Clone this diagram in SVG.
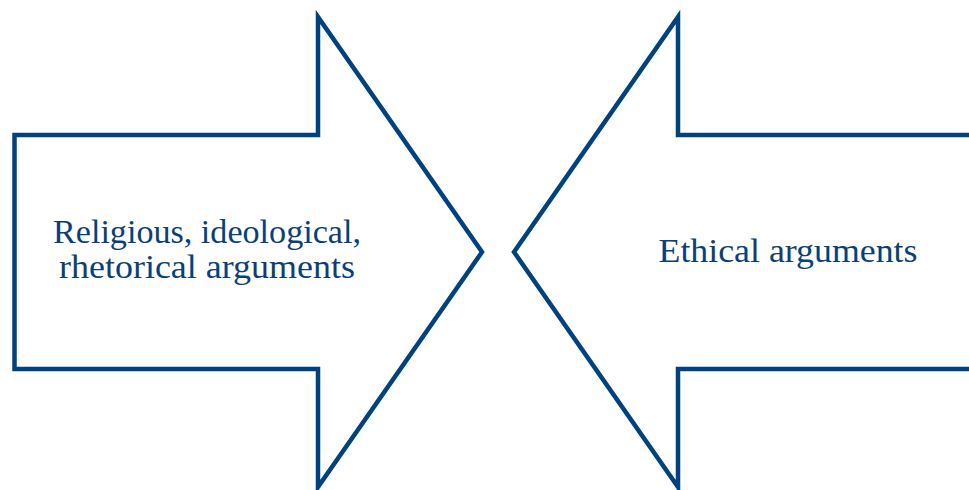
<svg xmlns="http://www.w3.org/2000/svg" width="969" height="490" viewBox="0 0 969 490">
  <style>
    .arrow { fill: #ffffff; stroke: #00427f; stroke-width: 4.5; stroke-linejoin: miter; stroke-miterlimit: 10; }
    .label { font-family: "Liberation Serif", "Times New Roman", serif; font-size: 33px; fill: #0b3f78; text-anchor: middle; }
  </style>
  <rect width="969" height="490" fill="#ffffff"/>
  <g id="connectors"></g>
  <g id="arrow-left">
    <polygon class="arrow" points="14.5,135 318,135 318,17 482,252 318,487 318,369 14.5,369"/>
    <text class="label" x="207" y="243" textLength="308" lengthAdjust="spacingAndGlyphs">Religious, ideological,</text>
    <text class="label" x="207" y="278" textLength="296" lengthAdjust="spacingAndGlyphs">rhetorical arguments</text>
  </g>
  <g id="arrow-right">
    <polygon class="arrow" points="975,135 678,135 678,17 514,252 678,487 678,369 975,369"/>
    <text class="label" x="788" y="262" textLength="259" lengthAdjust="spacingAndGlyphs">Ethical arguments</text>
  </g>
</svg>
